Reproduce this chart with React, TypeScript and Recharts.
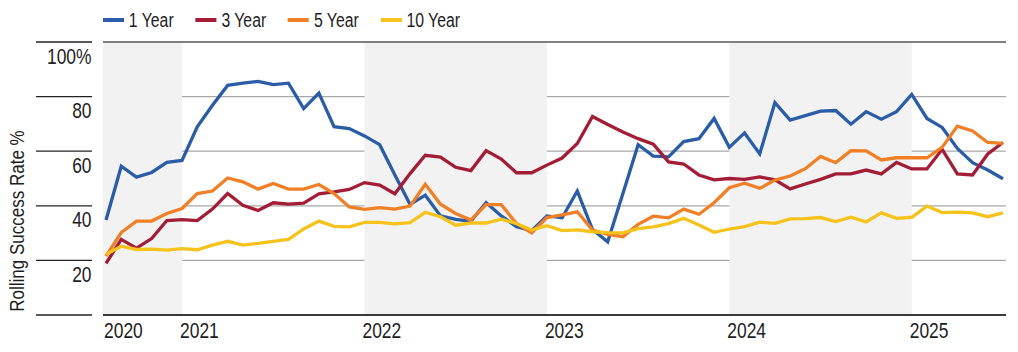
import { LineChart, Line, XAxis, YAxis, CartesianGrid, ReferenceArea, ReferenceLine } from "recharts";

// Arial metrics squeezed horizontally to mimic a condensed face
const FONT = "'Liberation Sans', Arial, sans-serif";
const SQUEEZE = 0.81;

const MONTHS = [
  "2020-08", "2020-09", "2020-10", "2020-11", "2020-12",
  "2021-01", "2021-02", "2021-03", "2021-04", "2021-05", "2021-06", "2021-07", "2021-08", "2021-09", "2021-10", "2021-11", "2021-12",
  "2022-01", "2022-02", "2022-03", "2022-04", "2022-05", "2022-06", "2022-07", "2022-08", "2022-09", "2022-10", "2022-11", "2022-12",
  "2023-01", "2023-02", "2023-03", "2023-04", "2023-05", "2023-06", "2023-07", "2023-08", "2023-09", "2023-10", "2023-11", "2023-12",
  "2024-01", "2024-02", "2024-03", "2024-04", "2024-05", "2024-06", "2024-07", "2024-08", "2024-09", "2024-10", "2024-11", "2024-12",
  "2025-01", "2025-02", "2025-03", "2025-04", "2025-05", "2025-06", "2025-07",
];

const ONE_YEAR = [
  34.8, 54.5, 50.5, 52.2, 55.9,
  56.6, 68.9, 76.8, 84.1, 84.9, 85.6, 84.4, 84.9, 75.6, 81.3, 69.0, 68.3,
  65.6, 62.4, 51.3, 40.5, 43.9, 36.3, 35.0, 34.3, 41.2, 36.3, 32.3, 30.9,
  36.3, 35.6, 45.4, 31.3, 26.8, 44.5, 62.4, 58.2, 57.9, 63.5, 64.6, 72.0,
  61.4, 66.7, 59.0, 77.8, 71.4, 73.0, 74.7, 74.9, 69.9, 74.5, 71.7, 74.5,
  80.8, 72.0, 68.7, 61.0, 55.8, 53.1, 49.9,
];

const THREE_YEAR = [
  18.9, 27.7, 24.5, 28.0, 34.6,
  34.9, 34.6, 38.8, 44.5, 40.2, 38.3, 41.1, 40.6, 41.0, 44.4, 45.1, 46.0,
  48.5, 47.6, 44.4, 51.8, 58.5, 57.8, 54.1, 52.9, 60.2, 57.1, 52.1, 52.1,
  54.9, 57.5, 62.8, 72.7, 69.8, 67.0, 64.6, 62.6, 56.1, 55.3, 51.3, 49.5,
  50.0, 49.7, 50.6, 49.5, 46.2, 48.0, 49.7, 51.7, 51.7, 53.1, 51.7, 55.9,
  53.5, 53.5, 60.7, 51.7, 51.3, 59.0, 63.2,
];

const FIVE_YEAR = [
  21.6, 30.2, 34.4, 34.4, 37.2,
  39.0, 44.5, 45.4, 50.2, 48.8, 46.1, 48.2, 46.1, 46.1, 47.8, 44.5, 39.6,
  38.7, 39.3, 38.8, 39.9, 47.9, 40.6, 37.2, 34.8, 40.4, 40.4, 33.5, 30.1,
  35.7, 36.7, 37.8, 31.1, 29.5, 28.7, 33.2, 36.2, 35.6, 38.8, 36.9, 41.1,
  46.6, 48.3, 46.4, 49.4, 50.9, 53.6, 58.1, 55.8, 60.2, 60.1, 56.8, 57.6,
  57.6, 57.6, 61.4, 69.2, 67.4, 63.2, 62.9,
];

const TEN_YEAR = [
  22.2, 25.2, 24.0, 24.1, 23.8,
  24.3, 23.9, 25.6, 27.0, 25.6, 26.2, 27.0, 27.7, 31.5, 34.4, 32.5, 32.3,
  33.9, 33.9, 33.4, 33.8, 37.6, 36.0, 32.9, 33.7, 33.7, 35.1, 33.5, 31.1,
  32.7, 30.9, 31.2, 30.5, 30.2, 30.1, 31.6, 32.3, 33.5, 35.4, 33.0, 30.3,
  31.5, 32.4, 34.0, 33.6, 35.2, 35.3, 35.7, 34.2, 35.8, 34.1, 37.4, 35.4,
  35.8, 39.9, 37.5, 37.7, 37.4, 36.0, 37.4,
];

const SERIES = [
  { key: "one", name: "1 Year", color: "#2B5CA8", values: ONE_YEAR },
  { key: "three", name: "3 Year", color: "#A31D37", values: THREE_YEAR },
  { key: "five", name: "5 Year", color: "#F07F26", values: FIVE_YEAR },
  { key: "ten", name: "10 Year", color: "#F6C31C", values: TEN_YEAR },
];

const Y_TICKS = [0, 20, 40, 60, 80, 100];
const SHADED_YEARS = ["2020", "2022", "2024"];
const X_MIN = -0.2;
const X_MAX = MONTHS.length - 1 + 0.2;

const data = MONTHS.map((m, i) => {
  const row: Record<string, number | string> = { t: i, month: m };
  SERIES.forEach((s) => { row[s.key] = s.values[i]; });
  return row;
});

// first month index of each year
const yearStart = (y: string) => MONTHS.findIndex((m) => m.startsWith(y));
const YEAR_TICKS = Array.from(new Set(MONTHS.map((m) => m.slice(0, 4)))).map(yearStart);

const shaded = SHADED_YEARS.map((y) => {
  const start = yearStart(y);
  const next = yearStart(String(Number(y) + 1));
  return { x1: start === 0 ? X_MIN : start, x2: next < 0 ? X_MAX : next };
});

function Squeezed({ x, y, anchor, size, rotate, children }: any) {
  const rot = rotate ? ` rotate(${rotate})` : "";
  return (
    <text transform={`translate(${x}, ${y})${rot} scale(${SQUEEZE}, 1)`} textAnchor={anchor} fontSize={size} fill="#1e1e1e" fontFamily={FONT}>
      {children}
    </text>
  );
}

function YTick({ y, payload }: any) {
  const v = payload.value;
  return (
    <g>
      <line x1={36} x2={92} y1={y} y2={y} stroke="#222" strokeWidth={1.3} />
      {v > 0 && (
        <Squeezed x={91.5} y={y + 21.5} anchor="end" size={21.5}>
          {v === 100 ? "100%" : v}
        </Squeezed>
      )}
    </g>
  );
}

function XTick({ x, payload }: any) {
  return (
    <Squeezed x={x - 2} y={337.5} anchor="start" size={21.5}>
      {MONTHS[payload.value].slice(0, 4)}
    </Squeezed>
  );
}

function YTitle() {
  return (
    <Squeezed x={24} y={221} anchor="middle" size={21} rotate={-90}>
      Rolling Success Rate %
    </Squeezed>
  );
}

export default function App() {
  return (
    <div style={{ position: "relative", width: 1018, height: 352 }}>
      <style>{"body{margin:0}"}</style>
      <div
        style={{
          position: "absolute", top: 8, left: 103, display: "flex", fontFamily: FONT, fontSize: 19.5, color: "#1e1e1e",
          transform: `scaleX(${SQUEEZE})`, transformOrigin: "left center", whiteSpace: "nowrap",
        }}
      >
        {SERIES.map((s) => (
          <div key={s.key} style={{ display: "flex", alignItems: "center", marginRight: 27, height: 24 }}>
            <span style={{ display: "inline-block", width: 21 / SQUEEZE, height: 4, background: s.color, marginRight: 6 }} />
            <span>{s.name}</span>
          </div>
        ))}
      </div>
      <LineChart width={1018} height={352} data={data} margin={{ top: 42, right: 12, bottom: 0, left: 0 }}>
        {shaded.map((r, i) => (
          <ReferenceArea key={i} x1={r.x1} x2={r.x2} y1={0} y2={100} fill="#f2f2f2" fillOpacity={1} stroke="none" />
        ))}
        <CartesianGrid vertical={false} stroke="#a8a8a8" strokeWidth={1.3} />
        <XAxis type="number" dataKey="t" domain={[X_MIN, X_MAX]} ticks={YEAR_TICKS} tick={<XTick />} axisLine={false} tickLine={false} height={37} interval={0} />
        <YAxis domain={[0, 100]} ticks={Y_TICKS} tick={<YTick />} axisLine={false} tickLine={false} width={103} interval={0} label={<YTitle />} />
        <ReferenceLine y={100} stroke="#808080" strokeWidth={2} />
        <ReferenceLine y={0} stroke="#3a3a3a" strokeWidth={2} />
        {SERIES.map((s) => (
          <Line key={s.key} type="linear" dataKey={s.key} name={s.name} stroke={s.color} strokeWidth={3.3} dot={false} isAnimationActive={false} />
        ))}
      </LineChart>
    </div>
  );
}
